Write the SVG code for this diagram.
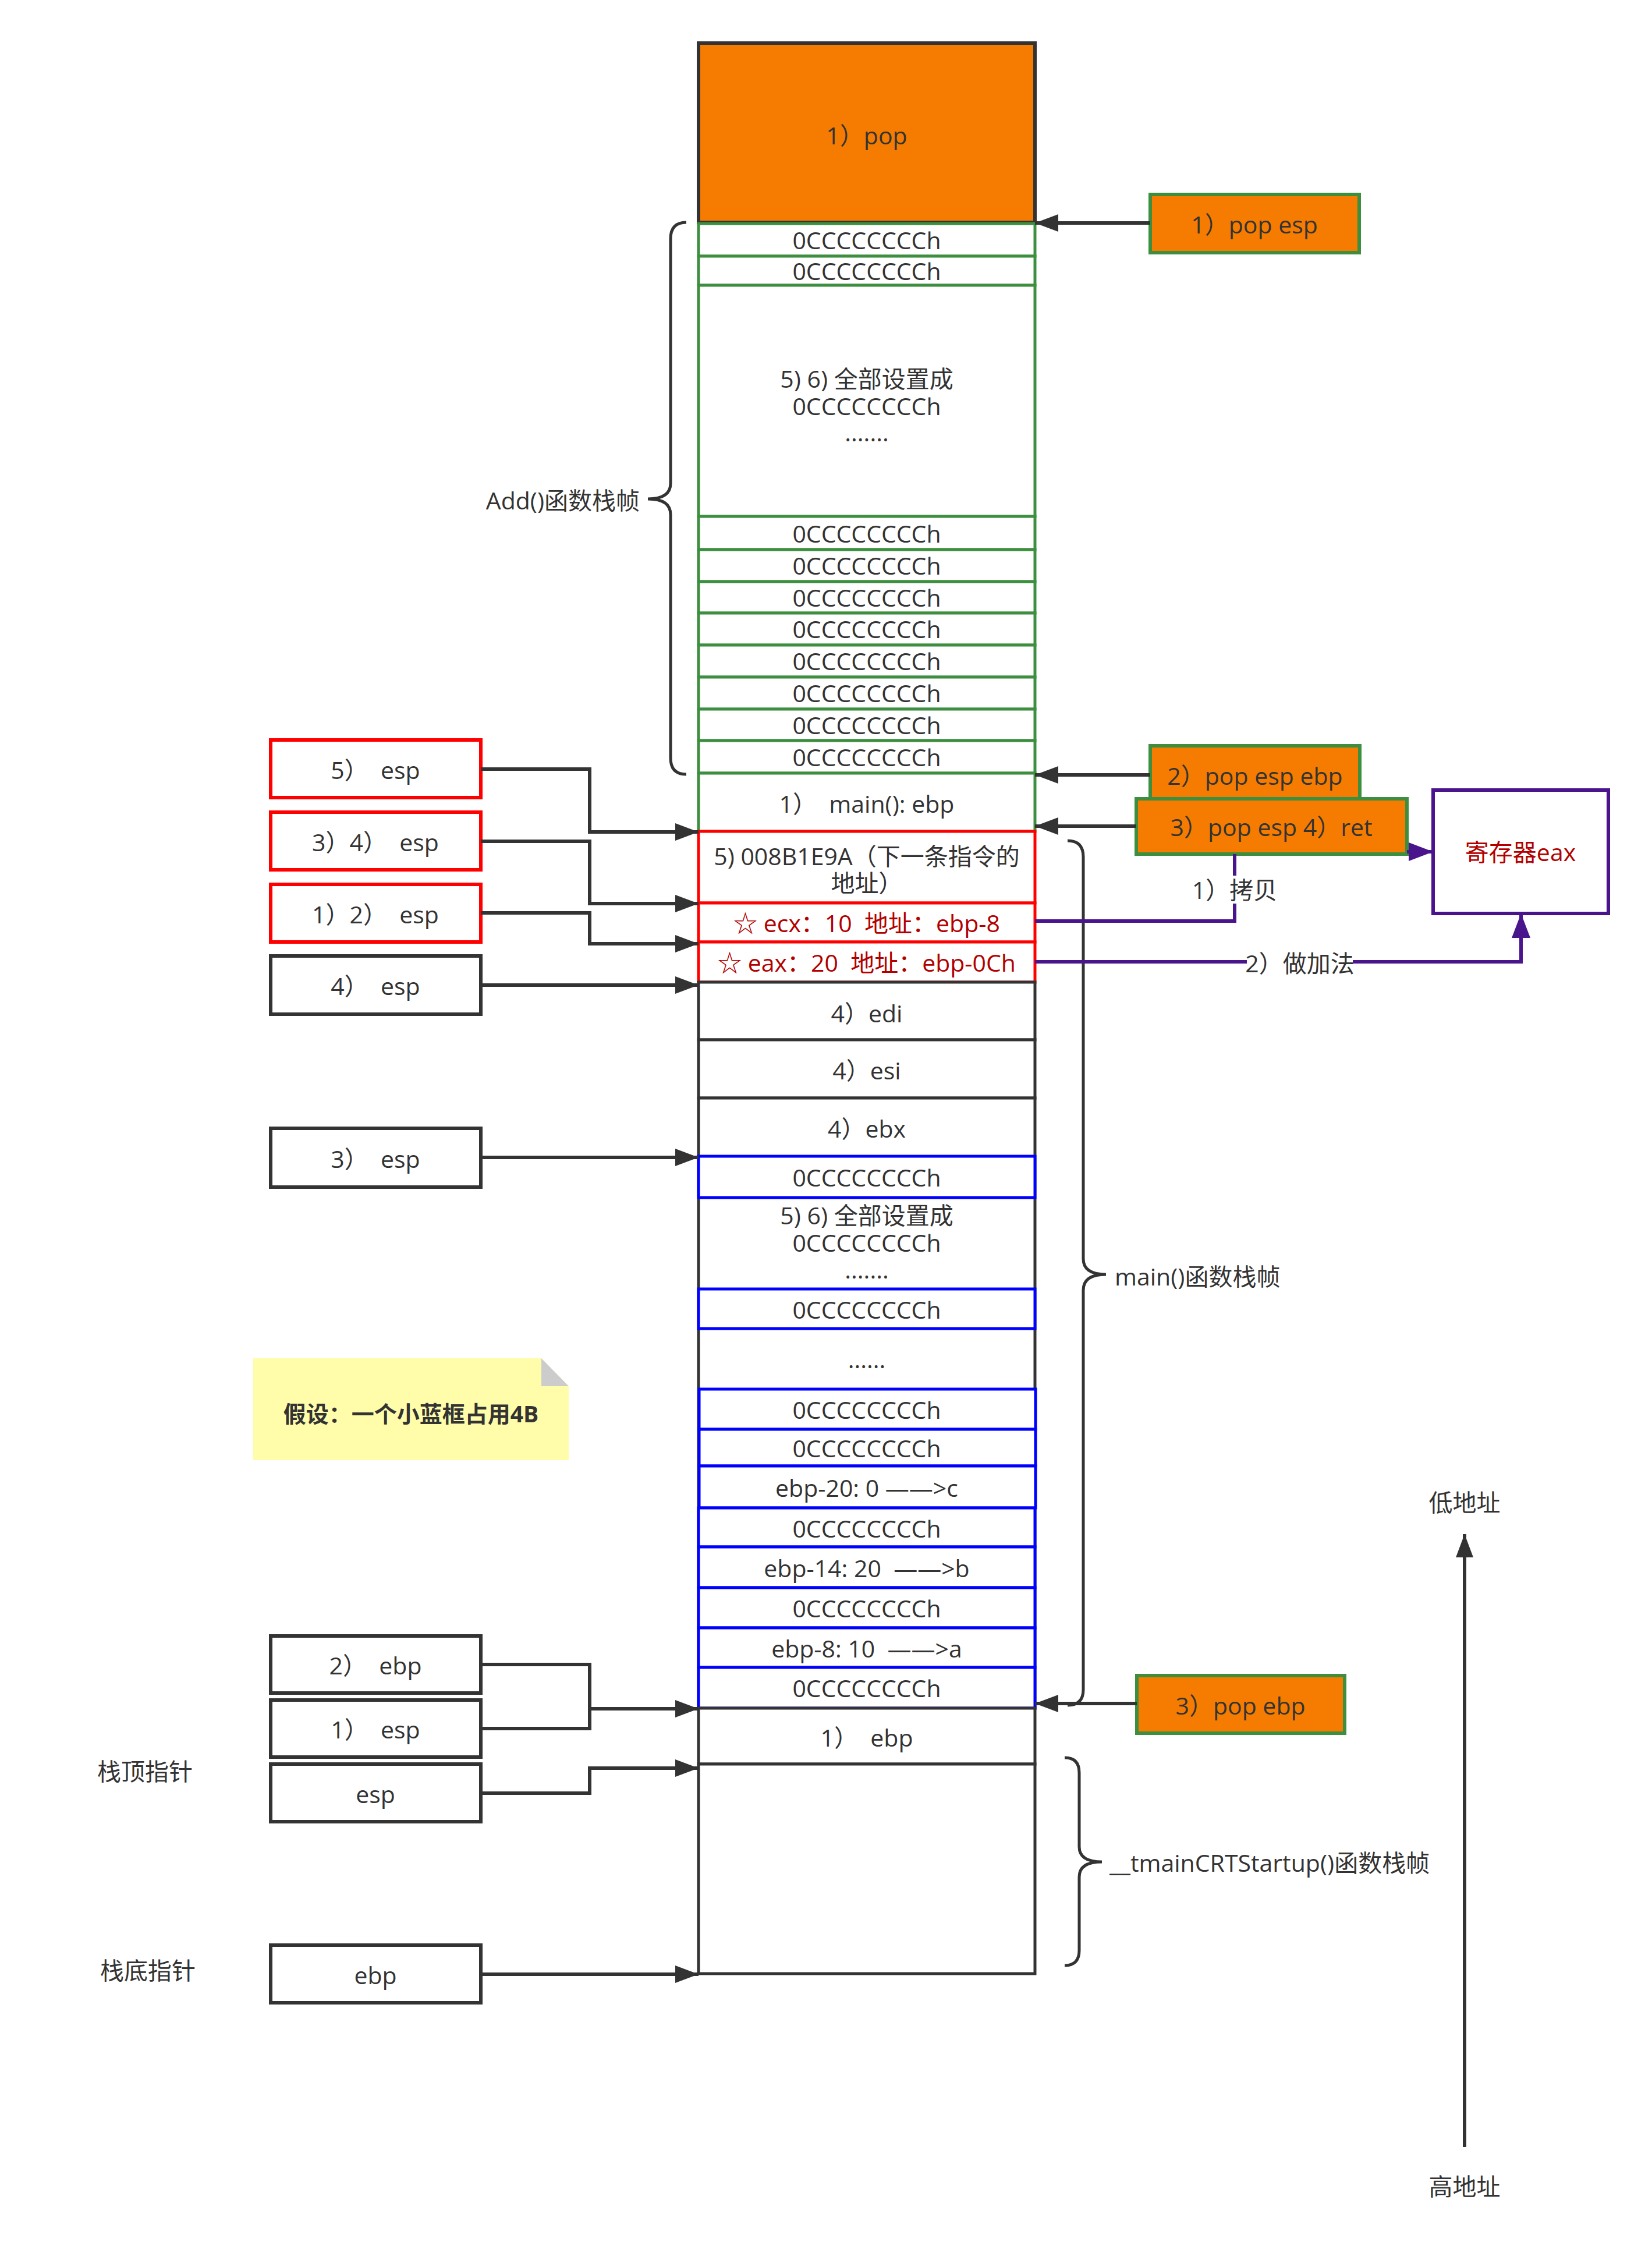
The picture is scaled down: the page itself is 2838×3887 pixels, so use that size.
<svg xmlns="http://www.w3.org/2000/svg" width="2838" height="3887" viewBox="0 0 2838 3887">
<style>
text{font-family:"Open Sans","Noto Sans CJK SC",sans-serif;font-size:41px;fill:#333333;text-anchor:middle;dominant-baseline:central;white-space:pre}
.l{text-anchor:start}
.r{text-anchor:end}
.red{fill:#B20000}
.bold{font-weight:bold;font-size:39px}
.cg{fill:#ffffff;stroke:#3D8F3F;stroke-width:5}
.cb{fill:#ffffff;stroke:#0000FF;stroke-width:5}
.ck{fill:#ffffff;stroke:#333333;stroke-width:5}
.cr{fill:#ffffff;stroke:#FF0000;stroke-width:5}
.or{fill:#F57C00;stroke:#3D8F3F;stroke-width:6}
.bx{fill:#ffffff;stroke:#333333;stroke-width:6}
.bxr{fill:#ffffff;stroke:#FF0000;stroke-width:6}
.ln{fill:none;stroke:#333333;stroke-width:6}
.pl{fill:none;stroke:#4A148C;stroke-width:6}
.br{fill:none;stroke:#333333;stroke-width:5}
</style>
<defs>
<marker id="ah" markerUnits="userSpaceOnUse" markerWidth="40" markerHeight="30" refX="40" refY="15" orient="auto">
<path d="M0,0 L40,15 L0,30 Z" fill="#333333"/>
</marker>
<marker id="ahp" markerUnits="userSpaceOnUse" markerWidth="42" markerHeight="32" refX="42" refY="16" orient="auto">
<path d="M0,0 L42,16 L0,32 Z" fill="#4A148C"/>
</marker>
</defs>
<rect width="2838" height="3887" fill="#ffffff"/>

<!-- main stack column -->
<g id="top-pop"><rect x="1200" y="74" width="578" height="308" fill="#F57C00" stroke="#333333" stroke-width="6"/><text x="1489" y="232">1）pop</text></g>
<g id="add-r1"><rect class="cg" x="1200" y="384" width="578" height="56"/><text x="1489" y="412">0CCCCCCCCh</text></g>
<g id="add-r2"><rect class="cg" x="1200" y="440" width="578" height="50"/><text x="1489" y="465">0CCCCCCCCh</text></g>
<g id="add-big"><rect class="cg" x="1200" y="490" width="578" height="397"/><text x="1489" y="650">5) 6) 全部设置成<tspan x="1489" dy="47">0CCCCCCCCh</tspan><tspan x="1489" dy="45">.......</tspan></text></g>
<g id="add-r3"><rect class="cg" x="1200" y="887" width="578" height="57"/><text x="1489" y="916">0CCCCCCCCh</text></g>
<g id="add-r4"><rect class="cg" x="1200" y="944" width="578" height="55"/><text x="1489" y="971">0CCCCCCCCh</text></g>
<g id="add-r5"><rect class="cg" x="1200" y="999" width="578" height="54"/><text x="1489" y="1026">0CCCCCCCCh</text></g>
<g id="add-r6"><rect class="cg" x="1200" y="1053" width="578" height="55"/><text x="1489" y="1080">0CCCCCCCCh</text></g>
<g id="add-r7"><rect class="cg" x="1200" y="1108" width="578" height="55"/><text x="1489" y="1135">0CCCCCCCCh</text></g>
<g id="add-r8"><rect class="cg" x="1200" y="1163" width="578" height="55"/><text x="1489" y="1190">0CCCCCCCCh</text></g>
<g id="add-r9"><rect class="cg" x="1200" y="1218" width="578" height="54"/><text x="1489" y="1245">0CCCCCCCCh</text></g>
<g id="add-r10"><rect class="cg" x="1200" y="1272" width="578" height="56"/><text x="1489" y="1300">0CCCCCCCCh</text></g>
<g id="main-ebp"><rect class="cg" x="1200" y="1328" width="578" height="100"/><text x="1489" y="1380">1）  main(): ebp</text></g>

<g id="ret-addr"><rect class="cr" x="1200" y="1428" width="578" height="123"/><text x="1489" y="1470">5) 008B1E9A（下一条指令的<tspan x="1489" dy="46">地址）</tspan></text></g>
<g id="ecx-row"><rect class="cr" x="1200" y="1551" width="578" height="67"/><text class="red" x="1489" y="1585">☆ ecx：10  地址：ebp-8</text></g>
<g id="eax-row"><rect class="cr" x="1200" y="1618" width="578" height="69"/><text class="red" x="1489" y="1653">☆ eax：20  地址：ebp-0Ch</text></g>

<g id="edi-row"><rect class="ck" x="1200" y="1687" width="578" height="99"/><text x="1489" y="1740">4）edi</text></g>
<g id="esi-row"><rect class="ck" x="1200" y="1786" width="578" height="100"/><text x="1489" y="1838">4）esi</text></g>
<g id="main-frame"><rect class="ck" x="1200" y="1886" width="578" height="1048"/><text x="1489" y="1938">4）ebx</text>
<text x="1489" y="2087">5) 6) 全部设置成<tspan x="1489" dy="47">0CCCCCCCCh</tspan><tspan x="1489" dy="46">.......</tspan></text>
<text x="1489" y="2334">......</text></g>
<g id="m-r1"><rect class="cb" x="1200" y="1986" width="578" height="71"/><text x="1489" y="2022">0CCCCCCCCh</text></g>
<g id="m-r2"><rect class="cb" x="1200" y="2214" width="578" height="68"/><text x="1489" y="2249">0CCCCCCCCh</text></g>
<g id="m-r3"><rect class="cb" x="1201" y="2386" width="578" height="69"/><text x="1489" y="2421">0CCCCCCCCh</text></g>
<g id="m-r4"><rect class="cb" x="1201" y="2455" width="578" height="63"/><text x="1489" y="2487">0CCCCCCCCh</text></g>
<g id="m-r5"><rect class="cb" x="1201" y="2518" width="578" height="72"/><text x="1489" y="2555">ebp-20: 0 ——&gt;c</text></g>
<g id="m-r6"><rect class="cb" x="1200" y="2590" width="578" height="67"/><text x="1489" y="2625">0CCCCCCCCh</text></g>
<g id="m-r7"><rect class="cb" x="1200" y="2657" width="578" height="70"/><text x="1489" y="2693">ebp-14: 20  ——&gt;b</text></g>
<g id="m-r8"><rect class="cb" x="1200" y="2727" width="578" height="69"/><text x="1489" y="2762">0CCCCCCCCh</text></g>
<g id="m-r9"><rect class="cb" x="1200" y="2796" width="578" height="68"/><text x="1489" y="2831">ebp-8: 10  ——&gt;a</text></g>
<g id="m-r10"><rect class="cb" x="1200" y="2864" width="578" height="70"/><text x="1489" y="2899">0CCCCCCCCh</text></g>
<g id="ebp-row"><rect class="ck" x="1200" y="2934" width="578" height="96"/><text x="1489" y="2984">1）  ebp</text></g>
<g id="tmain-frame"><rect class="ck" x="1200" y="3030" width="578" height="360"/></g>

<!-- left pointer boxes -->
<g id="p-5esp"><rect class="bxr" x="465" y="1271" width="361" height="99"/><text x="645" y="1322">5）  esp</text></g>
<g id="p-34esp"><rect class="bxr" x="465" y="1395" width="361" height="99"/><text x="645" y="1446">3）4）  esp</text></g>
<g id="p-12esp"><rect class="bxr" x="465" y="1519" width="361" height="99"/><text x="645" y="1570">1）2）  esp</text></g>
<g id="p-4esp"><rect class="bx" x="465" y="1642" width="361" height="100"/><text x="645" y="1693">4）  esp</text></g>
<g id="p-3esp"><rect class="bx" x="465" y="1938" width="361" height="101"/><text x="645" y="1990">3）  esp</text></g>
<g id="p-2ebp"><rect class="bx" x="465" y="2810" width="361" height="98"/><text x="645" y="2860">2）  ebp</text></g>
<g id="p-1esp"><rect class="bx" x="465" y="2920" width="361" height="98"/><text x="645" y="2970">1）  esp</text></g>
<g id="p-esp"><rect class="bx" x="465" y="3030" width="361" height="99"/><text x="645" y="3081">esp</text></g>
<g id="p-ebp"><rect class="bx" x="465" y="3341" width="361" height="99"/><text x="645" y="3392">ebp</text></g>

<!-- right instruction boxes -->
<g id="i-popesp"><rect class="or" x="1976" y="334" width="359" height="100"/><text x="2155" y="385">1）pop esp</text></g>
<g id="i-popespebp"><rect class="or" x="1976" y="1281" width="360" height="91"/><text x="2156" y="1332">2）pop esp ebp</text></g>
<g id="i-ret"><rect class="or" x="1952" y="1372" width="465" height="95"/><text x="2184" y="1420">3）pop esp 4）ret</text></g>
<g id="i-popebp"><rect class="or" x="1953" y="2878" width="357" height="99"/><text x="2131" y="2929">3）pop ebp</text></g>
<g id="reg-eax"><rect x="2462" y="1357" width="301" height="212" fill="#ffffff" stroke="#4A148C" stroke-width="6"/><text class="red" x="2612" y="1463">寄存器eax</text></g>

<!-- note -->
<g id="note"><path d="M435,2333 L930,2333 L977,2381 L977,2508 L435,2508 Z" fill="#FFFDAA"/><path d="M930,2333 L977,2381 L930,2381 Z" fill="#CCCCCC"/><text class="bold" x="706" y="2427">假设：一个小蓝框占用4B</text></g>

<!-- braces and labels -->
<g id="brace-add"><path class="br" d="M1179,382 Q1152,382 1152,410 L1152,830 Q1152,857 1113,857 Q1152,857 1152,884 L1152,1302 Q1152,1330 1179,1330"/><text class="r" x="1099" y="859">Add()函数栈帧</text></g>
<g id="brace-main"><path class="br" d="M1834,1444 Q1861,1444 1861,1472 L1861,2162 Q1861,2189 1900,2189 Q1861,2189 1861,2216 L1861,2902 Q1861,2929 1834,2929"/><text class="l" x="1915" y="2192">main()函数栈帧</text></g>
<g id="brace-tmain"><path class="br" d="M1829,3019 Q1854,3019 1854,3045 L1854,3172 Q1854,3198 1893,3198 Q1854,3198 1854,3224 L1854,3350 Q1854,3376 1829,3376"/><text class="l" x="1906" y="3199">__tmainCRTStartup()函数栈帧</text></g>
<g id="lbl-top"><text x="249" y="3042">栈顶指针</text></g>
<g id="lbl-bottom"><text x="254" y="3384">栈底指针</text></g>
<g id="lbl-low"><text x="2516" y="2580">低地址</text></g>
<g id="lbl-high"><text x="2516" y="3755">高地址</text></g>

<!-- connectors -->
<g id="connectors">
<path class="ln" d="M826,1321 H1013 V1429 H1200" marker-end="url(#ah)"/>
<path class="ln" d="M826,1445 H1013 V1552 H1200" marker-end="url(#ah)"/>
<path class="ln" d="M826,1568 H1013 V1621 H1200" marker-end="url(#ah)"/>
<path class="ln" d="M826,1692 H1200" marker-end="url(#ah)"/>
<path class="ln" d="M826,1988 H1200" marker-end="url(#ah)"/>
<path class="ln" d="M826,2859 H1013 V2935 H1200" marker-end="url(#ah)"/>
<path class="ln" d="M826,2969 H1013 V2935"/>
<path class="ln" d="M826,3080 H1013 V3037 H1200" marker-end="url(#ah)"/>
<path class="ln" d="M826,3391 H1200" marker-end="url(#ah)"/>
<path class="ln" d="M1976,383 H1778" marker-end="url(#ah)"/>
<path class="ln" d="M1976,1331 H1778" marker-end="url(#ah)"/>
<path class="ln" d="M1952,1419 H1778" marker-end="url(#ah)"/>
<path class="ln" d="M1953,2926 H1778" marker-end="url(#ah)"/>
<path class="ln" d="M2516,3688 V2635" marker-end="url(#ah)"/>
<path class="pl" d="M2417,1463 H2462" marker-end="url(#ahp)"/>
<path class="pl" d="M1778,1582 H2121 V1467"/>
<path class="pl" d="M1778,1652 H2613 V1569" marker-end="url(#ahp)"/>
<rect x="2048" y="1504" width="146" height="48" fill="#ffffff"/>
<text x="2121" y="1528">1）拷贝</text>
<rect x="2142" y="1630" width="182" height="48" fill="#ffffff"/>
<text x="2233" y="1654">2）做加法</text>
</g>
</svg>
